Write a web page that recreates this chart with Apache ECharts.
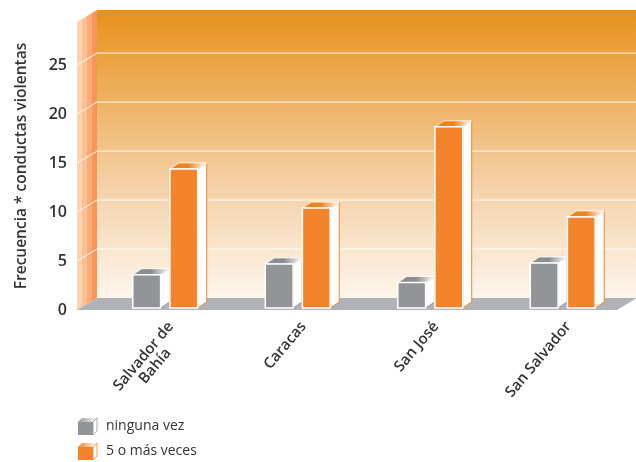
<!DOCTYPE html>
<html><head><meta charset="utf-8">
<script src="https://cdn.jsdelivr.net/npm/echarts@6/dist/echarts.min.js"></script>
<style>html,body{margin:0;padding:0;background:#fff}#c{width:636px;height:462px}</style>
</head><body><div id="c"></div>
<script>
const categories = ['Salvador de\nBahía', 'Caracas', 'San José', 'San Salvador'];
const ningunaVez = [3.4, 4.5, 2.6, 4.6];
const cincoOMas = [14.2, 10.2, 18.5, 9.3];
const yTicks = [0, 5, 10, 15, 20, 25];
const yMax = 29.4;
const seriesNames = ['ninguna vez', '5 o más veces'];

const GRAY = '#939497', ORANGE = '#f3842c';
const DX = 20, DY = -12;
const FONT = '"Open Sans", "Liberation Sans", Arial, sans-serif';
const XFONT_SIZE = 15, XFONT_WEIGHT = 600;

function renderWalls(params, api) {
  const fl = api.coord([0, 0]), fr = api.coord([1, 0]);
  const tl = api.coord([0, yMax]);
  const ch = [];
  ch.push({type: 'rect', shape: {x: tl[0] + DX, y: tl[1] + DY, width: fr[0] - fl[0], height: fl[1] - tl[1]},
    style: {fill: new echarts.graphic.LinearGradient(0, 0, 0, 1, [
      {offset: 0, color: '#e8911c'}, {offset: 0.3, color: '#eeb160'},
      {offset: 0.6, color: '#f4d0a6'}, {offset: 1, color: '#fdf5ec'}])}});
  const strips = ['#fdd2b0', '#fbbf94', '#f9aa76', '#f69558'];
  for (let i = 0; i < 4; i++) {
    const t0 = i / 4, t1 = (i + 1) / 4;
    ch.push({type: 'polygon', shape: {points: [
      [fl[0] + DX * t0, tl[1] + DY * t0], [fl[0] + DX * t1, tl[1] + DY * t1],
      [fl[0] + DX * t1, fl[1] + DY * t1], [fl[0] + DX * t0, fl[1] + DY * t0]]},
      style: {fill: strips[i]}});
  }
  yTicks.filter(v => v > 0).forEach(v => {
    const p = api.coord([0, v]), q = api.coord([1, v]);
    ch.push({type: 'polyline', shape: {points: [[p[0], p[1]], [p[0] + DX, p[1] + DY], [q[0] + DX, q[1] + DY]]},
      style: {stroke: 'rgba(255,255,255,0.9)', lineWidth: 1, fill: null}});
  });
  ch.push({type: 'polygon', shape: {points: [[fl[0], fl[1]], [fl[0] + DX, fl[1] + DY], [fr[0] + DX, fr[1] + DY], [fr[0], fr[1]]]},
    style: {fill: '#b1b2b5'}});
  return {type: 'group', children: ch};
}

function makeBar(idx, col, topCol) {
  return function (params, api) {
    const c = api.value(0), v = api.value(1);
    const b = api.coord([c, 0]), t = api.coord([c, v]);
    const band = api.size([1, 0])[0];
    const w = band * 0.21, gap = band * 0.035;
    const x0 = idx === 0 ? b[0] - gap - w : b[0] + gap;
    const x1 = x0 + w;
    const dx = 9, dy = -6;
    return {type: 'group', children: [
      {type: 'polygon', shape: {points: [[x1, t[1]], [x1 + dx, t[1] + dy], [x1 + dx, b[1] + dy], [x1, b[1]]]},
        style: {fill: '#ffffff', stroke: col, lineWidth: 1}},
      {type: 'polygon', shape: {points: [[x0, t[1]], [x0 + dx, t[1] + dy], [x1 + dx, t[1] + dy], [x1, t[1]]]},
        style: {fill: new echarts.graphic.LinearGradient(0, 0, 1, 0, [
          {offset: 0, color: topCol}, {offset: 0.5, color: topCol}, {offset: 1, color: '#ffffff'}]),
          stroke: '#ffffff', lineWidth: 0.8}},
      {type: 'rect', shape: {x: x0, y: t[1], width: w, height: b[1] - t[1]},
        style: {fill: col, stroke: '#ffffff', lineWidth: 1.5}}
    ]};
  };
}

function cubeIcon(c) {
  const svg = "<svg xmlns='http://www.w3.org/2000/svg' width='23' height='17' viewBox='0 0 23 17'>" +
    "<defs><linearGradient id='g' x1='0' x2='1' y1='0' y2='0'><stop offset='0' stop-color='" + c + "'/><stop offset='1' stop-color='#ffffff'/></linearGradient></defs>" +
    "<polygon points='0,4 4,0 19,0 15,4' fill='url(#g)'/>" +
    "<polygon points='15,4 19,0 19,13 15,17' fill='#ffffff' stroke='" + c + "' stroke-width='0.8'/>" +
    "<rect x='0' y='4' width='15' height='13' fill='" + c + "'/></svg>";
  return 'image://data:image/svg+xml;charset=utf-8,' + encodeURIComponent(svg);
}

// width of the widest line of a multi-line label, so its lines can be centred within it
const measureCtx = document.createElement('canvas').getContext('2d');
measureCtx.font = XFONT_WEIGHT + ' ' + XFONT_SIZE + 'px ' + FONT;
const rich = {c: {align: 'center', fontSize: XFONT_SIZE, fontWeight: XFONT_WEIGHT, fontFamily: FONT, color: '#333333', lineHeight: 15}};
function labelFormatter(v) {
  const lines = String(v).split('\n');
  if (lines.length === 1) return v;
  const w = Math.ceil(Math.max.apply(null, lines.map(l => measureCtx.measureText(l).width)));
  rich.c.width = w;
  return lines.map(l => '{c|' + l + '}').join('\n');
}
categories.forEach(labelFormatter);

const chart = echarts.init(document.getElementById('c'), null, {renderer: 'canvas'});
chart.setOption({
  animation: false,
  backgroundColor: '#ffffff',
  textStyle: {fontFamily: FONT},
  grid: [
    {left: 77, right: 19, top: 22, bottom: 152},
    {left: 99, right: 7, top: 20, bottom: 154}
  ],
  xAxis: [
    {gridIndex: 0, type: 'value', min: 0, max: 1, show: false},
    {gridIndex: 1, type: 'category', data: categories,
      axisLine: {show: false}, axisTick: {show: false},
      axisLabel: {interval: 0, rotate: 50, margin: 11, verticalAlign: 'top', align: 'right',
        fontSize: XFONT_SIZE, fontWeight: XFONT_WEIGHT, fontFamily: FONT, color: '#333333', lineHeight: 15,
        formatter: labelFormatter, rich: rich}}
  ],
  yAxis: [
    {gridIndex: 0, type: 'value', min: 0, max: yMax, interval: 5,
      axisLine: {show: false}, axisTick: {show: false}, splitLine: {show: false},
      axisLabel: {fontSize: 16, fontWeight: 600, fontFamily: FONT, color: '#333333', margin: 10, showMaxLabel: false,
        formatter: v => (yTicks.indexOf(v) >= 0 ? String(v) : '')},
      name: 'Frecuencia * conductas violentas', nameLocation: 'middle', nameGap: 47,
      nameTextStyle: {fontSize: 15.5, fontWeight: 600, fontFamily: FONT, color: '#333333'}},
    {gridIndex: 1, type: 'value', min: 0, max: yMax, show: false}
  ],
  legend: {
    orient: 'vertical', left: 78, top: 418, itemWidth: 23, itemHeight: 17, itemGap: 8, padding: 0,
    textStyle: {fontSize: 14, color: '#333333', fontFamily: FONT},
    data: [{name: seriesNames[0], icon: cubeIcon(GRAY)}, {name: seriesNames[1], icon: cubeIcon(ORANGE)}]
  },
  series: [
    {type: 'custom', name: '_walls', xAxisIndex: 0, yAxisIndex: 0, z: 1, silent: true,
      renderItem: renderWalls, data: [[0, 0]], clip: false},
    {type: 'custom', name: seriesNames[0], xAxisIndex: 1, yAxisIndex: 1, z: 2,
      renderItem: makeBar(0, GRAY, '#8c8d90'), data: ningunaVez.map((v, i) => [i, v]),
      encode: {x: 0, y: 1}, itemStyle: {color: GRAY}},
    {type: 'custom', name: seriesNames[1], xAxisIndex: 1, yAxisIndex: 1, z: 2,
      renderItem: makeBar(1, ORANGE, '#e9841e'), data: cincoOMas.map((v, i) => [i, v]),
      encode: {x: 0, y: 1}, itemStyle: {color: ORANGE}}
  ]
});
</script></body></html>
